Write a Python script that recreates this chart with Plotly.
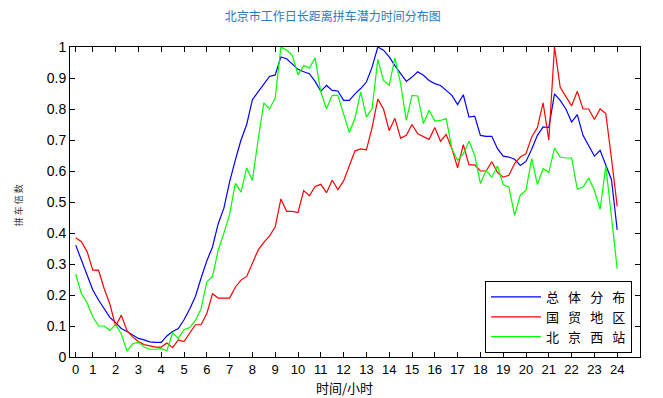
import plotly.graph_objects as go

hour_labels = [str(h) for h in range(25)]
tick_index = [1] + [4 * h for h in range(1, 25)]
slot_index = list(range(1, 97))

total = [0.361, 0.313, 0.26, 0.216, 0.184, 0.157, 0.128, 0.111, 0.092, 0.082,
         0.071, 0.06, 0.055, 0.049, 0.047, 0.047, 0.068, 0.082, 0.092, 0.12,
         0.155, 0.195, 0.255, 0.31, 0.355, 0.43, 0.48, 0.565, 0.635, 0.70,
         0.75, 0.83, 0.855, 0.88, 0.905, 0.91, 0.968, 0.962, 0.946, 0.928,
         0.92, 0.914, 0.889, 0.857, 0.876, 0.86, 0.858, 0.828, 0.828, 0.849,
         0.866, 0.887, 0.935, 1.0, 0.99, 0.968, 0.94, 0.914, 0.889, 0.903,
         0.92, 0.909, 0.892, 0.882, 0.876, 0.86, 0.844, 0.814, 0.846, 0.774,
         0.777, 0.715, 0.712, 0.712, 0.672, 0.648, 0.645, 0.638, 0.618, 0.631,
         0.67, 0.715, 0.742, 0.74, 0.849, 0.828, 0.80, 0.758, 0.782, 0.715,
         0.683, 0.648, 0.667, 0.618, 0.572, 0.41]

guomao = [0.385, 0.372, 0.34, 0.28, 0.28, 0.22, 0.17, 0.10, 0.135, 0.085,
          0.065, 0.05, 0.04, 0.035, 0.032, 0.032, 0.045, 0.03, 0.055, 0.05,
          0.075, 0.104, 0.104, 0.14, 0.204, 0.19, 0.19, 0.19, 0.225, 0.248,
          0.26, 0.30, 0.345, 0.37, 0.39, 0.42, 0.51, 0.47, 0.47, 0.466,
          0.537, 0.52, 0.55, 0.557, 0.53, 0.57, 0.54, 0.568, 0.614, 0.665,
          0.671, 0.668, 0.74, 0.832, 0.80, 0.73, 0.77, 0.706, 0.715, 0.75,
          0.72, 0.71, 0.702, 0.74, 0.696, 0.718, 0.672, 0.61, 0.685, 0.62,
          0.62, 0.60, 0.60, 0.63, 0.595, 0.58, 0.586, 0.624, 0.645, 0.656,
          0.71, 0.74, 0.82, 0.70, 1.0, 0.87, 0.84, 0.81, 0.857, 0.80,
          0.80, 0.766, 0.80, 0.785, 0.64, 0.486]

xizhan = [0.267, 0.204, 0.175, 0.13, 0.10, 0.10, 0.086, 0.105, 0.074, 0.019,
          0.043, 0.048, 0.032, 0.025, 0.025, 0.027, 0.02, 0.078, 0.06, 0.088,
          0.095, 0.118, 0.156, 0.242, 0.26, 0.345, 0.40, 0.46, 0.56, 0.532,
          0.61, 0.57, 0.70, 0.82, 0.80, 0.835, 1.0, 0.99, 0.973, 0.91,
          0.94, 0.932, 0.965, 0.855, 0.801, 0.844, 0.844, 0.785, 0.724, 0.771,
          0.855, 0.774, 0.801, 0.96, 0.892, 0.876, 0.965, 0.882, 0.763, 0.844,
          0.842, 0.753, 0.796, 0.761, 0.763, 0.769, 0.672, 0.634, 0.656, 0.696,
          0.651, 0.559, 0.602, 0.58, 0.616, 0.556, 0.548, 0.457, 0.522, 0.538,
          0.64, 0.556, 0.608, 0.595, 0.674, 0.645, 0.642, 0.642, 0.541, 0.548,
          0.577, 0.538, 0.476, 0.616, 0.46, 0.285]

y_ticks = [round(0.1 * k, 1) for k in range(11)]
y_labels = ["0", "0.1", "0.2", "0.3", "0.4", "0.5", "0.6", "0.7", "0.8", "0.9", "1"]

sp = "\u2002\u2009"
series_names = [sp.join("总体分布"), sp.join("国贸地区"), sp.join("北京西站")]
series_colors = ["#0000ff", "#ff0000", "#00ff00"]

fig = go.Figure()
for name, vals, col in zip(series_names, [total, guomao, xizhan], series_colors):
    fig.add_trace(go.Scatter(x=slot_index, y=vals, mode="lines", name=name,
                             line=dict(color=col, width=1.2)))

cjk = "Noto Sans CJK SC"
num_font = dict(family="Liberation Sans, Arial", size=13, color="black")

# page has an 8px body margin: the figure is sized so it ends at the window edge
fig.update_layout(
    width=655, height=390,
    margin=dict(l=62, r=23, t=39, b=41),
    paper_bgcolor="white", plot_bgcolor="white",
    title=dict(text="北京市工作日长距离拼车潜力时间分布图", x=0.496, xanchor="center",
               y=0.977, yanchor="middle", yref="container",
               font=dict(family=cjk, size=12, color="#2a7bc0")),
    xaxis=dict(range=[0, 100], tickvals=tick_index, ticktext=hour_labels,
               ticks="inside", ticklen=5, tickcolor="black", showline=True,
               linecolor="black", linewidth=1, mirror="ticks", showgrid=False,
               zeroline=False, tickfont=num_font),
    yaxis=dict(range=[0, 1], tickvals=y_ticks, ticktext=y_labels,
               ticks="inside", ticklen=5, tickcolor="black", showline=True,
               linecolor="black", linewidth=1, mirror="ticks", showgrid=False,
               zeroline=False, tickfont=dict(family="Liberation Sans, Arial", size=14, color="black")),
    legend=dict(x=0.986, y=0.013, xanchor="right", yanchor="bottom",
                bgcolor="white", bordercolor="black", borderwidth=1,
                font=dict(family=cjk, size=13, color="black"),
                tracegroupgap=0, itemwidth=50),
    showlegend=True,
)

fig.add_annotation(text="时间/小时", xref="paper", yref="paper", x=0.482, y=-0.097,
                   showarrow=False, xanchor="center", yanchor="middle",
                   font=dict(family=cjk, size=13, color="black"))
fig.add_annotation(text="拼 车 倍 数", xref="paper", yref="paper", x=-0.091, y=0.49,
                   showarrow=False, textangle=-90, xanchor="center", yanchor="middle",
                   font=dict(family=cjk, size=9, color="#333333"))

fig.write_html("out.html")
